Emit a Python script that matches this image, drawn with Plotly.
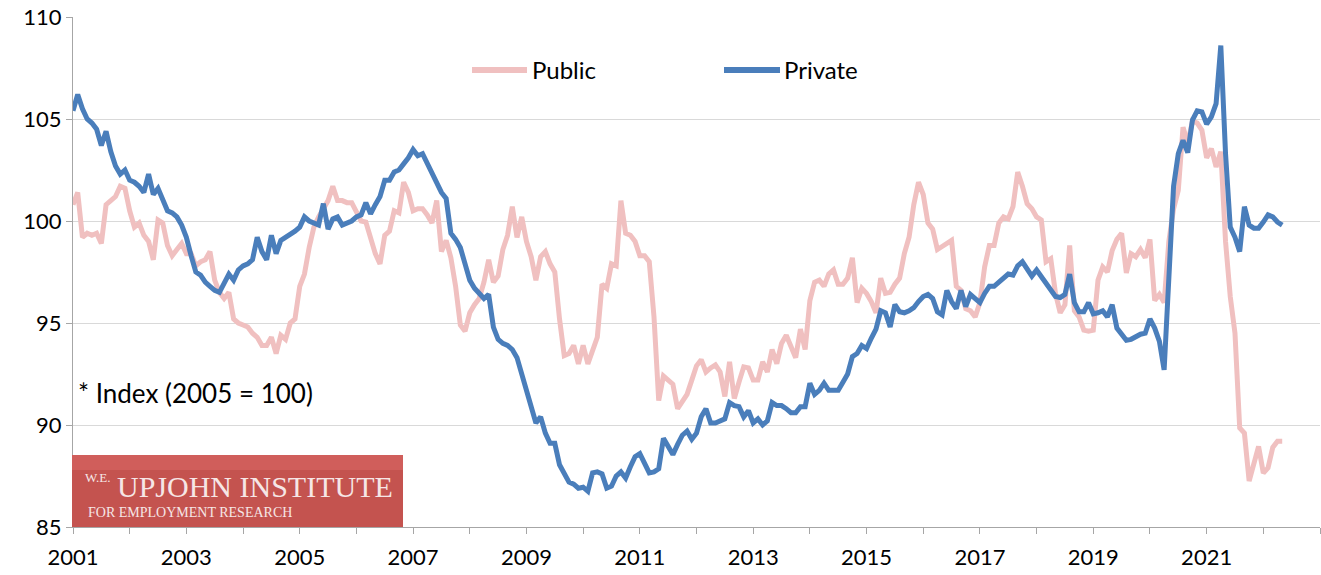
import plotly.graph_objects as go

start_year = 2001
# Monthly index values, Jan 2001 - May 2022 (2005 = 100), one row per year
public = [
    100.8, 101.4, 99.2, 99.4, 99.3, 99.4, 98.9, 100.8, 101.0, 101.2, 101.7, 101.6,
    100.5, 99.7, 99.9, 99.3, 99.0, 98.1, 100.05, 99.9, 98.8, 98.3, 98.6, 98.9,
    98.4, 98.4, 97.8, 98.0, 98.1, 98.5, 97.1, 96.5, 96.2, 96.5, 95.2, 95.0,
    94.9, 94.8, 94.5, 94.3, 93.9, 93.9, 94.3, 93.5, 94.4, 94.2, 95.0, 95.2,
    96.8, 97.4, 98.7, 99.7, 100.2, 100.6, 101.0, 101.7, 101.0, 101.0, 100.9, 100.9,
    100.4, 100.0, 99.95, 99.2, 98.4, 97.9, 99.3, 99.5, 100.5, 100.4, 101.9, 101.4,
    100.5, 100.6, 100.6, 100.3, 99.9, 101.0, 98.5, 99.05, 98.2, 96.8, 94.9, 94.6,
    95.5, 95.9, 96.2, 97.0, 98.1, 97.0, 97.3, 98.6, 99.3, 100.7, 99.2, 100.2,
    99.0, 98.25, 97.1, 98.25, 98.5, 97.9, 97.5, 95.2, 93.4, 93.5, 93.9, 93.0,
    93.9, 93.0, 93.6, 94.3, 96.9, 96.7, 97.9, 97.8, 101.0, 99.4, 99.3, 99.0,
    98.3, 98.3, 98.0, 95.3, 91.2, 92.4, 92.2, 92.0, 90.8, 91.2, 91.5, 92.2,
    92.9, 93.2, 92.6, 92.8, 92.95, 92.6, 91.4, 93.1, 91.3, 92.1, 92.85, 92.8,
    92.2, 92.2, 93.1, 92.6, 93.7, 93.0, 94.0, 94.4, 93.8, 93.3, 94.7, 93.7,
    96.1, 97.0, 97.1, 96.8, 97.4, 97.6, 96.9, 96.9, 97.2, 98.2, 96.0, 96.7,
    96.45, 96.05, 95.5, 97.2, 96.45, 96.5, 96.9, 97.2, 98.4, 99.2, 100.8, 101.9,
    101.3, 99.9, 99.6, 98.6, 98.75, 98.9, 99.05, 96.8, 96.6, 95.7, 95.6, 95.3,
    96.0, 97.75, 98.8, 98.8, 99.9, 100.2, 100.1, 100.7, 102.4, 101.7, 100.85, 100.6,
    100.2, 100.05, 98.0, 98.15, 96.45, 95.5, 95.9, 98.8, 95.6, 95.3, 94.65, 94.6,
    94.65, 97.1, 97.75, 97.5, 98.55, 99.1, 99.4, 97.45, 98.4, 98.25, 98.6, 98.2,
    99.1, 96.1, 96.4, 96.0, 99.0, 100.6, 101.5, 104.6, 103.8, 104.9, 104.8, 104.45,
    103.1, 103.55, 102.65, 103.4, 99.0, 96.3, 94.5, 89.85, 89.6, 87.25, 88.1, 88.95,
    87.65, 87.9, 88.9, 89.2, 89.2,
]
private = [
    105.4, 106.2, 105.5, 105.0, 104.8, 104.5, 103.7, 104.4, 103.4, 102.7, 102.3, 102.5,
    102.0, 101.9, 101.7, 101.4, 102.3, 101.3, 101.6, 101.0, 100.5, 100.4, 100.2, 99.8,
    99.2, 98.3, 97.5, 97.35, 97.0, 96.8, 96.6, 96.5, 96.9, 97.4, 97.1, 97.6,
    97.8, 97.9, 98.1, 99.2, 98.5, 98.1, 99.3, 98.4, 99.05, 99.2, 99.3, 99.5,
    99.7, 100.2, 100.0, 99.9, 99.8, 100.85, 99.6, 100.1, 100.2, 99.8, 99.9, 100.0,
    100.2, 100.3, 100.9, 100.35, 100.8, 101.2, 102.0, 102.0, 102.4, 102.5, 102.8, 103.1,
    103.5, 103.2, 103.3, 102.8, 102.3, 101.9, 101.4, 101.1, 99.4, 99.1, 98.7, 97.9,
    97.1, 96.7, 96.4, 96.2, 96.4, 94.8, 94.2, 94.0, 93.9, 93.7, 93.3, 92.5,
    91.6, 91.0, 90.1, 90.4, 89.6, 89.1, 89.1, 88.05, 87.65, 87.2, 87.1, 86.9,
    86.95, 86.75, 87.65, 87.7, 87.6, 86.9, 87.0, 87.5, 87.7, 87.4, 87.95, 88.45,
    88.6, 88.1, 87.65, 87.7, 87.85, 89.35, 88.9, 88.55, 89.05, 89.5, 89.7, 89.3,
    89.6, 90.4, 90.8, 90.1, 90.1, 90.2, 90.3, 91.1, 90.95, 90.9, 90.4, 90.7,
    90.1, 90.3, 90.0, 90.2, 91.1, 90.95, 90.95, 90.8, 90.6, 90.6, 90.9, 90.9,
    92.05, 91.5, 91.7, 92.05, 91.7, 91.7, 91.7, 92.1, 92.5, 93.35, 93.5, 93.9,
    93.75, 94.25, 94.7, 95.6, 95.5, 94.8, 95.9, 95.55, 95.5, 95.6, 95.75, 96.05,
    96.3, 96.4, 96.2, 95.55, 95.4, 96.6, 96.05, 95.7, 96.6, 95.8, 96.4, 96.2,
    96.0, 96.45, 96.8, 96.8, 97.0, 97.2, 97.4, 97.35, 97.8, 98.0, 97.6, 97.3,
    97.6, 97.3, 97.0, 96.6, 96.3, 96.25, 96.4, 97.4, 96.0, 95.55, 95.55, 96.0,
    95.45, 95.5, 95.6, 95.3, 95.9, 94.75, 94.4, 94.15, 94.2, 94.35, 94.45, 94.5,
    95.2, 94.75, 94.1, 92.7, 96.8, 101.7, 103.3, 103.95, 103.35, 104.95, 105.4, 105.35,
    104.75, 105.1, 105.75, 108.6, 103.3, 99.7, 99.2, 98.5, 100.7, 99.8, 99.65, 99.65,
    99.95, 100.3, 100.2, 99.95, 99.8,
]
x_years = [start_year + i / 12 for i in range(len(public))]
tick_years = list(range(2001, 2024))
tick_labels = [str(y) if (y - 2001) % 2 == 0 and y <= 2021 else "" for y in tick_years]
y_ticks = [85, 90, 95, 100, 105, 110]

PUB_COLOR = "#F0C0C0"
PRI_COLOR = "#4A7EBB"
FONT = "Lato"

fig = go.Figure()
fig.add_trace(go.Scatter(x=x_years, y=public, mode="lines", name="Public",
                         line=dict(color=PUB_COLOR, width=5), showlegend=False))
fig.add_trace(go.Scatter(x=x_years, y=private, mode="lines", name="Private",
                         line=dict(color=PRI_COLOR, width=5), showlegend=False))

W, H = 1321, 575
L, R, T, B = 73, 1, 17, 48
pw, ph = W - L - R, H - T - B

def px(xp):
    return (xp - L) / pw

def py(yp):
    return (H - B - yp) / ph

shapes = []
annotations = []
# manual legend
for (x0, x1, tx, label, col) in [(472, 527, 530, "Public", PUB_COLOR), (724, 780, 782, "Private", PRI_COLOR)]:
    shapes.append(dict(type="line", xref="paper", yref="paper", x0=px(x0), x1=px(x1),
                       y0=py(70), y1=py(70), line=dict(color=col, width=6)))
    annotations.append(dict(xref="paper", yref="paper", x=px(tx), y=py(70), text=label,
                            showarrow=False, xanchor="left", yanchor="middle",
                            font=dict(family=FONT, size=24, color="#000000")))

annotations.append(dict(xref="paper", yref="paper", x=px(76), y=py(393),
                        text="* Index (2005 = 100)", showarrow=False,
                        xanchor="left", yanchor="middle",
                        font=dict(family=FONT, size=26, color="#000000")))

# logo block
shapes.append(dict(type="rect", xref="paper", yref="paper", x0=px(72), x1=px(403),
                   y0=py(527), y1=py(455), fillcolor="#C4534F", line=dict(width=0),
                   layer="above"))
shapes.append(dict(type="rect", xref="paper", yref="paper", x0=px(72), x1=px(403),
                   y0=py(470), y1=py(455), fillcolor="#D05E5B", line=dict(width=0),
                   layer="above"))
annotations.append(dict(xref="paper", yref="paper", x=px(83), y=py(477), text="W.E.",
                        showarrow=False, xanchor="left", yanchor="middle",
                        font=dict(family="Liberation Serif", size=13, color="#F6E6E6")))
annotations.append(dict(xref="paper", yref="paper", x=px(115), y=py(486), text="UPJOHN INSTITUTE",
                        showarrow=False, xanchor="left", yanchor="middle",
                        font=dict(family="Liberation Serif", size=30, color="#F6E6E6")))
annotations.append(dict(xref="paper", yref="paper", x=px(86), y=py(512), text="FOR EMPLOYMENT RESEARCH",
                        showarrow=False, xanchor="left", yanchor="middle",
                        font=dict(family="Liberation Serif", size=14, color="#F6E6E6")))

fig.update_layout(
    width=W, height=H,
    margin=dict(l=L, r=R, t=T, b=B, pad=0),
    paper_bgcolor="white", plot_bgcolor="white",
    shapes=shapes, annotations=annotations,
    xaxis=dict(range=[2001, 2023], tickmode="array", tickvals=tick_years, ticktext=tick_labels,
               showgrid=False, zeroline=False, showline=True, linecolor="#A6A6A6", linewidth=1,
               ticks="outside", ticklen=6, tickcolor="#A6A6A6", ticklabelstandoff=5,
               tickfont=dict(family=FONT, size=22, color="#000000")),
    yaxis=dict(range=[85, 110], tickmode="array", tickvals=y_ticks,
               showgrid=True, gridcolor="#D9D9D9", gridwidth=1, zeroline=False,
               showline=True, linecolor="#A6A6A6", linewidth=1,
               ticks="outside", ticklen=6, tickcolor="#A6A6A6",
               tickfont=dict(family=FONT, size=22, color="#000000")),
)

fig.write_html("out.html")
